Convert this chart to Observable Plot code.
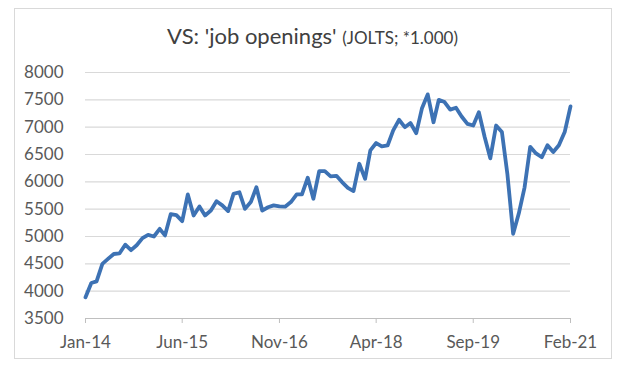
<!DOCTYPE html>
<html><head><meta charset="utf-8">
<script src="https://cdn.jsdelivr.net/npm/d3@7"></script>
<script src="https://cdn.jsdelivr.net/npm/@observablehq/plot@0.6"></script>
<style>
body{margin:0;background:#fff;font-family:Lato,sans-serif;}
#wrap{position:relative;width:625px;height:375px;overflow:hidden;}
#frame{position:absolute;left:14px;top:8px;width:598px;height:351px;border:1px solid #d9d9d9;box-sizing:border-box;}
#title{position:absolute;left:0;top:22px;width:625px;text-align:center;color:#404040;font-size:22px;line-height:28px;white-space:nowrap;}
#title small{font-size:17px;}
#chart{position:absolute;left:0;top:52px;}
</style></head>
<body><div id="wrap"><div id="frame"></div><div id="title">VS: 'job openings' <small>(JOLTS; *1.000)</small></div><div id="chart"></div></div>
<script>
// Monthly job openings (thousands), Jan-2014 .. Feb-2021
const firstMonth = "2014-01";
const openings = [
  3890, 4150, 4180, 4500, 4590, 4680, 4690, 4850, 4750, 4840, 4970, 5030,
  5000, 5140, 5020, 5410, 5390, 5280, 5770, 5385, 5550, 5385, 5475, 5645,
  5570, 5465, 5780, 5810, 5505, 5630, 5900, 5475, 5535, 5570, 5550, 5545,
  5630, 5770, 5770, 6075, 5690, 6195, 6195, 6100, 6110, 5995, 5890, 5830,
  6330, 6055, 6575, 6710, 6650, 6665, 6940, 7135, 7000, 7075, 6890, 7340,
  7600, 7090, 7500, 7460, 7320, 7355, 7195, 7060, 7030, 7275, 6820, 6430,
  7030, 6910, 6150, 5050, 5420, 5900, 6640, 6520, 6450, 6670, 6545, 6670,
  6910, 7380
];
const yTicks = [3500, 4000, 4500, 5000, 5500, 6000, 6500, 7000, 7500, 8000];
const xTickLabels = ["Jan-14", "Jun-15", "Nov-16", "Apr-18", "Sep-19", "Feb-21"];

const start = d3.utcParse("%Y-%m")(firstMonth);
const months = d3.utcMonth.range(start, d3.utcMonth.offset(start, openings.length));
const data = openings.map((v, i) => ({date: months[i], value: v}));
const fmt = d3.utcFormat("%b-%y");
const xTickDates = xTickLabels.map(s => d3.utcParse("%b-%y")(s));

const chart = Plot.plot({
  width: 625, height: 323,
  marginLeft: 85, marginRight: 55, marginTop: 20, marginBottom: 57,
  style: {fontFamily: "Lato, sans-serif", fontSize: "17px", color: "#595959", background: "transparent", overflow: "visible"},
  x: {type: "utc", domain: [months[0], months[months.length - 1]]},
  y: {domain: [3500, 8000]},
  marks: [
    Plot.ruleY(yTicks.filter(t => t > 3500), {stroke: "#d9d9d9", strokeWidth: 1.2}),
    Plot.ruleY([3500], {stroke: "#bfbfbf", strokeWidth: 1.2}),
    Plot.axisY({ticks: yTicks, tickFormat: d => String(d), tickSize: 0, tickPadding: 22, label: null, fill: "#595959"}),
    Plot.axisX({ticks: xTickDates, tickFormat: fmt, tickSize: 5, stroke: "#bfbfbf", tickPadding: 12, label: null, fill: "#595959"}),
    Plot.line(data, {x: "date", y: "value", stroke: "#3d72b4", strokeWidth: 3.8, strokeLinejoin: "round", strokeLinecap: "round"})
  ]
});
document.getElementById("chart").appendChild(chart);
</script>
</body></html>
